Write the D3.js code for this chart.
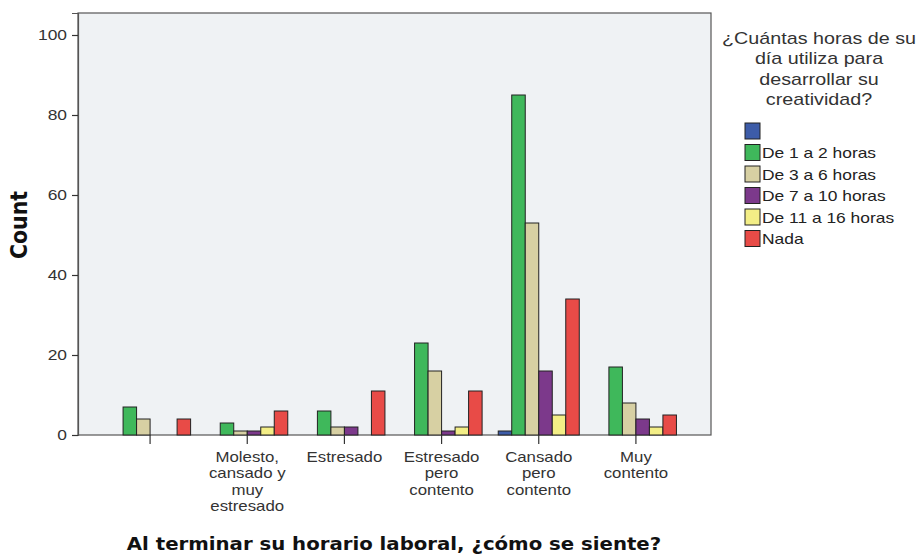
<!DOCTYPE html>
<html>
<head>
<meta charset="utf-8">
<script src="https://cdn.jsdelivr.net/npm/d3@7"></script>
<style>
  html, body { margin: 0; padding: 0; background: #ffffff; }
  svg { display: block; }
</style>
</head>
<body>
<svg id="chart" width="924" height="557"></svg>
<script>
// Categories on the x axis (each may wrap to several lines)
const categories = [
  "",
  "Molesto, cansado y muy estresado",
  "Estresado",
  "Estresado pero contento",
  "Cansado pero contento",
  "Muy contento"
];
const categoryLines = [
  [""],
  ["Molesto,", "cansado y", "muy", "estresado"],
  ["Estresado"],
  ["Estresado", "pero", "contento"],
  ["Cansado", "pero", "contento"],
  ["Muy", "contento"]
];

// Series (legend entries) and their colours
const seriesNames = ["", "De 1 a 2 horas", "De 3 a 6 horas", "De 7 a 10 horas", "De 11 a 16 horas", "Nada"];
const seriesColors = ["#3d5ca8", "#3fb85b", "#d7d0a3", "#7c398b", "#f3ee86", "#e84b47"];

// Counts per series, one value per category
const blank     = [0, 0, 0, 0, 1, 0];
const de1a2     = [7, 3, 6, 23, 85, 17];
const de3a6     = [4, 1, 2, 16, 53, 8];
const de7a10    = [0, 1, 2, 1, 16, 4];
const de11a16   = [0, 2, 0, 2, 5, 2];
const nada      = [4, 6, 11, 11, 34, 5];
const seriesValues = [blank, de1a2, de3a6, de7a10, de11a16, nada];

const yTicks = [0, 20, 40, 60, 80, 100];

const legendTitle = ["¿Cuántas horas de su", "día utiliza para", "desarrollar su", "creatividad?"];
const yTitle = "Count";
const xTitle = "Al terminar su horario laboral, ¿cómo se siente?";

// Text is drawn slightly wide
const SX = 1.16;
const SANS = "Liberation Sans, Arial, sans-serif";
const BOLD = "DejaVu Sans, sans-serif";

const svg = d3.select("#chart");
const frame = { left: 78, right: 711, top: 13, bottom: 435 };

// Scales
const x = d3.scaleBand()
  .domain(d3.range(categories.length))
  .range([frame.left + 23.5, frame.right - 26.5])
  .paddingInner(0.166)
  .paddingOuter(0.083);
const xs = d3.scaleBand()
  .domain(d3.range(seriesNames.length))
  .range([0, x.bandwidth()]);
const y = d3.scaleLinear().domain([0, 105.5]).range([frame.bottom, frame.top]);

// Plot background
svg.append("rect")
  .attr("x", frame.left).attr("y", frame.top)
  .attr("width", frame.right - frame.left).attr("height", frame.bottom - frame.top)
  .attr("fill", "#eff2f4")
  .attr("stroke", "#555").attr("stroke-width", 1.2);

// Bars
const barData = [];
seriesValues.forEach((vals, s) => vals.forEach((v, c) => {
  if (v > 0) barData.push({ s, c, v });
}));
svg.append("g").selectAll("rect")
  .data(barData)
  .join("rect")
  .attr("x", d => x(d.c) + xs(d.s))
  .attr("y", d => y(d.v))
  .attr("width", xs.bandwidth())
  .attr("height", d => y(0) - y(d.v))
  .attr("fill", d => seriesColors[d.s])
  .attr("stroke", "#222").attr("stroke-width", 1);

// Y axis
const yAxis = svg.append("g")
  .attr("transform", `translate(${frame.left},0)`)
  .call(d3.axisLeft(y).tickValues(yTicks).tickSize(6).tickPadding(3).tickFormat(d3.format("d")));
yAxis.select(".domain").attr("stroke", "#555").attr("stroke-width", 1.2);
yAxis.selectAll(".tick line").attr("stroke", "#333").attr("stroke-width", 1.2);
yAxis.selectAll(".tick text")
  .attr("font-family", SANS)
  .attr("font-size", 15).attr("fill", "#333")
  .attr("x", -11 / SX)
  .attr("transform", `scale(${SX},1)`);

// X axis
const xAxis = svg.append("g")
  .attr("transform", `translate(0,${frame.bottom})`)
  .call(d3.axisBottom(x).tickSize(9).tickFormat(""));
xAxis.select(".domain").remove();
xAxis.selectAll(".tick line").attr("stroke", "#333").attr("stroke-width", 1.2);
xAxis.selectAll(".tick").each(function(d) {
  const t = d3.select(this).append("text")
    .attr("font-family", SANS)
    .attr("font-size", 14.5).attr("fill", "#333")
    .attr("text-anchor", "middle")
    .attr("transform", `scale(${SX},1)`)
    .attr("y", 27);
  categoryLines[d].forEach((line, i) => {
    t.append("tspan").attr("x", 0).attr("dy", i === 0 ? 0 : 16.5).text(line);
  });
});

// Axis titles
svg.append("text")
  .attr("transform", `translate(27,225) scale(${SX},1) rotate(-90)`)
  .attr("text-anchor", "middle")
  .attr("font-family", BOLD).attr("font-weight", "bold")
  .attr("font-size", 20.5).attr("fill", "#111")
  .text(yTitle);
svg.append("text")
  .attr("transform", `translate(394,550) scale(${SX},1)`)
  .attr("text-anchor", "middle")
  .attr("font-family", BOLD).attr("font-weight", "bold")
  .attr("font-size", 17).attr("fill", "#111")
  .text(xTitle);

// Legend
const legend = svg.append("g");
legend.append("text")
  .attr("transform", `translate(819,0) scale(${SX},1)`)
  .attr("font-family", SANS)
  .attr("font-size", 17).attr("fill", "#333")
  .attr("text-anchor", "middle")
  .selectAll("tspan")
  .data(legendTitle)
  .join("tspan")
  .attr("x", 0)
  .attr("y", (d, i) => 44 + i * 20.5)
  .text(d => d);
const items = legend.selectAll("g.item")
  .data(seriesNames)
  .join("g").attr("class", "item")
  .attr("transform", (d, i) => `translate(745,${123 + i * 21.5})`);
items.append("rect")
  .attr("width", 15).attr("height", 16)
  .attr("fill", (d, i) => seriesColors[i])
  .attr("stroke", "#222").attr("stroke-width", 1);
items.append("text")
  .attr("transform", `translate(17,13.5) scale(${SX},1)`)
  .attr("font-family", SANS)
  .attr("font-size", 15).attr("fill", "#222")
  .text(d => d);
</script>
</body>
</html>
